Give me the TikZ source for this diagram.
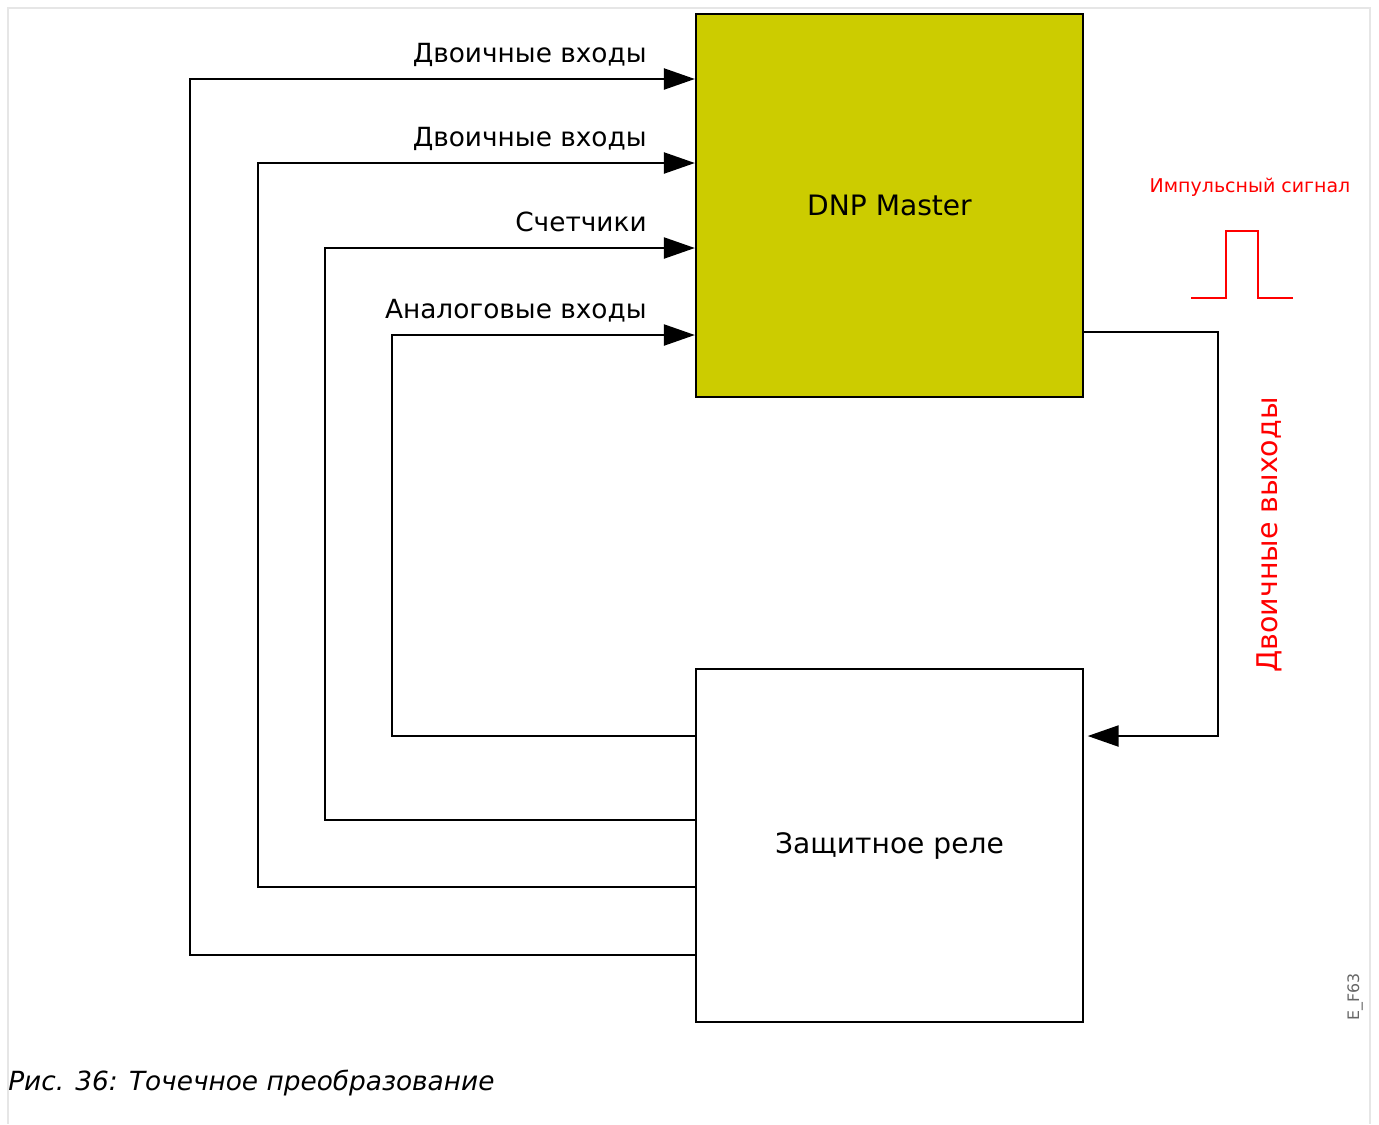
\documentclass[tikz,border=0pt]{standalone}
\usepackage{fontspec}
\setmainfont{DejaVu Sans}
\usetikzlibrary{positioning, arrows.meta, calc}
\definecolor{dnpyellow}{HTML}{CCCC00}
\definecolor{framegray}{HTML}{E6E6E6}
\definecolor{pulsered}{HTML}{FF0000}

\begin{document}
\begin{tikzpicture}[
    blockbox/.style={draw, line width=1.3pt, minimum width=7.74cm, font=\fontsize{16}{19}\selectfont},
    sig/.style={line width=1.3pt},
    sigarrow/.style={sig, -{Triangle[length=0.62cm, width=0.42cm]}},
    inlabel/.style={anchor=base east, inner sep=0pt, font=\fontsize{15}{18}\selectfont},
    redlabel/.style={text=pulsered, inner sep=0pt}
  ]
    \useasboundingbox (0,0) rectangle (27.58,-22.48);
    % Rahmen
    \draw[framegray, line width=1pt] (0.16,-22.48) |- (27.40,-0.16) -- (27.40,-22.48);
    % Bloecke
    \node[blockbox, fill=dnpyellow, minimum height=7.66cm] (master) at (17.79,-4.11) {DNP Master};
    \node[blockbox, fill=white, minimum height=7.06cm] (relay) at (17.79,-16.91) {Защитное реле};
    % Eingaenge: vom Relais zum Master
    \foreach \x/\yi/\yo/\txt [count=\i] in {
        3.80/-1.58/-19.10/Двоичные входы,
        5.16/-3.26/-17.74/Двоичные входы,
        6.50/-4.96/-16.40/Счетчики,
        7.84/-6.70/-14.72/Аналоговые входы}{
      \coordinate (bend\i) at (\x,\yi);
      \draw[sigarrow] (relay.west |- 0,\yo) -| (bend\i) -- (master.west |- bend\i);
      \node[inlabel] (in\i) at (12.94,\yi+0.34) {\txt};
    }
    % Ausgang: vom Master zum Relais
    \coordinate (outbend) at (24.36,-6.64);
    \draw[sigarrow, shorten >=2pt] (master.east |- outbend) -- (outbend) |- (relay.east |- 0,-14.72);
    \node[redlabel, rotate=90, font=\fontsize{16.2}{19}\selectfont] (outlbl) at (25.38,-10.70) {Двоичные выходы};
    % Impuls
    \node[redlabel, font=\fontsize{10.8}{13}\selectfont] (pulselbl) at (25.00,-3.74) {Импульсный сигнал};
    \draw[pulsered, line width=0.8pt] (23.82,-5.96) -- (24.52,-5.96) -- (24.52,-4.62)
      -- (25.16,-4.62) -- (25.16,-5.96) -- (25.86,-5.96);
    % Kennung und Bildunterschrift
    \node[text=black!60, rotate=90, inner sep=0pt, font=\fontsize{9}{11}\selectfont] (figid) at (27.10,-19.94) {E\_F63};
    \node[anchor=west, inner sep=0pt, font=\fontsize{15}{18}\selectfont\itshape] (caption) at (0.16,-21.66)
      {Рис. 36: Точечное преобразование};
  \end{tikzpicture}
\end{document}
